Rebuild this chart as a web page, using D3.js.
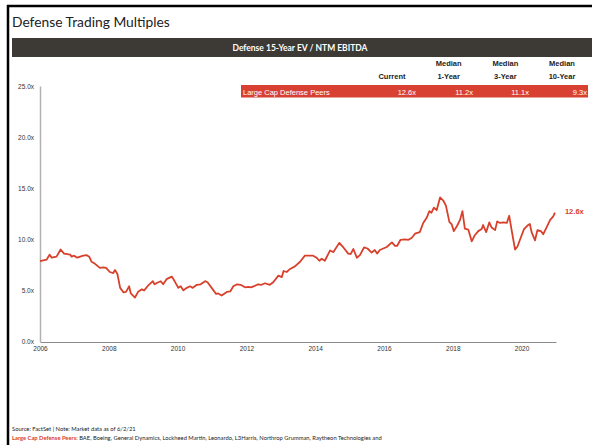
<!DOCTYPE html>
<html>
<head>
<meta charset="utf-8">
<script src="https://cdn.jsdelivr.net/npm/d3@7"></script>
<style>
  body { margin: 0; background: #fff; }
  svg { display: block; }
</style>
</head>
<body>
<div id="chart"></div>
<script>
(function(){

  // time in decimal years, EV / NTM EBITDA multiple
  var dates = [2006.00,2006.19,2006.28,2006.34,2006.48,2006.60,2006.70,2006.88,2006.92,2006.99,
    2007.08,2007.26,2007.36,2007.43,2007.50,2007.60,2007.74,2007.84,2007.92,
    2008.03,2008.13,2008.18,2008.25,2008.33,2008.43,2008.50,2008.59,2008.64,2008.76,2008.86,2008.96,
    2009.03,2009.15,2009.28,2009.33,2009.41,2009.51,2009.58,2009.68,2009.83,2009.88,
    2010.02,2010.09,2010.17,2010.24,2010.36,2010.44,2010.56,2010.67,2010.80,2010.87,2010.99,
    2011.12,2011.18,2011.28,2011.43,2011.53,2011.62,2011.73,2011.83,2011.96,
    2012.06,2012.13,2012.25,2012.34,2012.44,2012.54,2012.68,2012.78,2012.93,
    2013.03,2013.08,2013.17,2013.27,2013.41,2013.56,2013.70,2013.94,
    2014.04,2014.12,2014.19,2014.28,2014.43,2014.53,2014.70,2014.82,2014.96,
    2015.03,2015.11,2015.21,2015.30,2015.42,2015.52,2015.64,2015.73,2015.80,2015.88,
    2016.08,2016.23,2016.32,2016.38,2016.48,2016.61,2016.71,2016.81,2016.90,
    2017.04,2017.14,2017.24,2017.32,2017.38,2017.45,2017.53,2017.63,2017.73,2017.80,2017.90,2017.97,
    2018.03,2018.13,2018.21,2018.28,2018.35,2018.45,2018.55,2018.64,2018.74,2018.84,2018.88,2018.97,
    2019.06,2019.13,2019.23,2019.29,2019.37,2019.47,2019.57,2019.64,2019.71,2019.81,2019.88,2019.98,
    2020.07,2020.17,2020.24,2020.29,2020.39,2020.46,2020.56,2020.63,2020.73,2020.83,2020.92,2020.97];

  var multiples = [7.87,8.0,8.5,8.2,8.3,9.0,8.6,8.5,8.3,8.4,
    8.2,8.4,8.45,8.3,7.8,7.6,7.2,7.25,7.2,
    6.8,6.7,7.0,6.6,5.25,4.8,4.85,5.4,4.7,4.3,4.9,5.1,
    5.0,5.5,5.9,5.6,5.75,5.9,5.6,6.1,6.35,6.1,
    5.25,5.4,5.0,5.2,5.4,5.25,5.55,5.6,5.9,5.8,5.25,
    4.65,4.7,4.5,4.85,4.9,5.4,5.6,5.55,5.3,
    5.35,5.3,5.45,5.6,5.55,5.7,5.55,5.8,6.45,
    6.3,6.9,6.8,7.1,7.35,7.8,8.4,8.4,
    8.2,7.9,8.1,7.9,8.9,8.75,9.65,9.2,8.6,
    8.55,9.05,8.2,8.45,9.2,9.1,8.7,8.95,8.6,8.95,
    9.25,9.7,9.35,9.35,9.95,10.0,9.95,10.15,10.55,
    10.7,11.6,12.1,12.75,12.6,13.1,12.85,14.1,13.75,13.3,11.7,11.45,
    10.8,11.35,11.9,12.75,11.05,10.95,9.8,10.4,10.8,11.0,11.4,10.7,
    11.65,11.15,10.9,11.75,11.6,11.65,11.6,12.3,10.9,9.0,9.3,10.2,
    11.0,11.35,11.5,10.7,9.9,10.9,10.8,10.5,11.2,11.9,12.25,12.6];

  var yTicks = [0, 5, 10, 15, 20, 25];
  var xTicks = [2006, 2008, 2010, 2012, 2014, 2016, 2018, 2020];

  var tableCols = ["Current", "1-Year", "3-Year", "10-Year"];
  var tableTops = ["", "Median", "Median", "Median"];
  var peerLabel = "Large Cap Defense Peers";
  var peerValues = [12.6, 11.2, 11.1, 9.3];

  var red = "#d9402b";
  var arial = "'Liberation Sans', Arial, sans-serif";
  var calibri = "Lato, 'Open Sans', sans-serif";

  var width = 592;
  var height = 445;

  var svg = d3.select("#chart")
    .append("svg")
    .attr("width", width)
    .attr("height", height);

  // frame lines
  svg.append("line").attr("x1", 8).attr("x2", 8).attr("y1", 5).attr("y2", height)
    .attr("stroke", "#000").attr("stroke-width", 2.5);
  svg.append("line").attr("x1", 7).attr("x2", width).attr("y1", 6).attr("y2", 6)
    .attr("stroke", "#000").attr("stroke-width", 2.5);

  svg.append("text")
    .attr("x", 12).attr("y", 27)
    .attr("font-family", calibri).attr("font-size", 13.8)
    .attr("fill", "#222")
    .text("Defense Trading Multiples");

  // dark header bar
  svg.append("rect").attr("x", 12).attr("y", 38).attr("width", width - 12).attr("height", 19)
    .attr("fill", "#3d3935");
  svg.append("text")
    .attr("x", 300).attr("y", 51)
    .attr("text-anchor", "middle")
    .attr("font-family", calibri).attr("font-size", 8.5).attr("font-weight", "bold")
    .attr("fill", "#fff")
    .text("Defense 15-Year EV / NTM EBITDA");

  // summary table
  var colX = d3.scalePoint().domain(tableCols).range([392, 562]);
  var valRight = [416, 473, 529, 587];

  svg.selectAll(".hdrTop").data(tableCols).enter().append("text")
    .attr("x", function(d){ return colX(d); })
    .attr("y", 66)
    .attr("text-anchor", "middle")
    .attr("font-family", arial).attr("font-size", 7.5).attr("font-weight", "bold")
    .attr("fill", "#222")
    .text(function(d, i){ return tableTops[i]; });

  svg.selectAll(".hdrBot").data(tableCols).enter().append("text")
    .attr("x", function(d){ return colX(d); })
    .attr("y", 79)
    .attr("text-anchor", "middle")
    .attr("font-family", arial).attr("font-size", 7.5).attr("font-weight", "bold")
    .attr("fill", "#222")
    .text(function(d){ return d; });

  svg.append("rect").attr("x", 241).attr("y", 85).attr("width", 347).attr("height", 12.5)
    .attr("fill", "#d84132");
  svg.append("text")
    .attr("x", 243).attr("y", 94.5)
    .attr("font-family", arial).attr("font-size", 7.5)
    .attr("fill", "#fff")
    .text(peerLabel);
  svg.selectAll(".peerVal").data(peerValues).enter().append("text")
    .attr("x", function(d, i){ return valRight[i]; })
    .attr("y", 94.5)
    .attr("text-anchor", "end")
    .attr("font-family", arial).attr("font-size", 7.5)
    .attr("fill", "#fff")
    .text(function(d){ return d.toFixed(1) + "x"; });

  // chart
  var x = d3.scaleLinear().domain([2006, 2021]).range([40, 556]);
  var y = d3.scaleLinear().domain([0, 25]).range([341.5, 86]);

  var yAxis = svg.append("g")
    .attr("transform", "translate(40,0)")
    .call(d3.axisLeft(y).tickValues(yTicks).tickSize(0).tickPadding(6)
      .tickFormat(function(d){ return d.toFixed(1) + "x"; }));
  yAxis.select(".domain").attr("stroke", "#b4b0b0").attr("stroke-width", 1.5);
  yAxis.selectAll("text").attr("font-family", arial).attr("font-size", 6.5).attr("fill", "#333");

  var xAxis = svg.append("g")
    .attr("transform", "translate(0,342)")
    .call(d3.axisBottom(x).tickValues(xTicks).tickSize(0).tickPadding(4)
      .tickFormat(d3.format("d")));
  xAxis.select(".domain").attr("stroke", "#8c8888").attr("stroke-width", 1);
  xAxis.selectAll("text").attr("font-family", arial).attr("font-size", 6.5).attr("fill", "#333");

  var line = d3.line()
    .x(function(d, i){ return x(dates[i]); })
    .y(function(d){ return y(d); });

  svg.append("path")
    .datum(multiples)
    .attr("d", line)
    .attr("fill", "none")
    .attr("stroke", red)
    .attr("stroke-width", 1.8)
    .attr("stroke-linejoin", "round");

  var last = multiples[multiples.length - 1];
  svg.append("text")
    .attr("x", x(dates[dates.length - 1]) + 10)
    .attr("y", y(last) + 1)
    .attr("font-family", arial).attr("font-size", 7.5).attr("font-weight", "bold")
    .attr("fill", red)
    .text(last.toFixed(1) + "x");

  // footnotes
  svg.append("text")
    .attr("x", 12).attr("y", 431)
    .attr("font-family", calibri).attr("font-size", 5.8)
    .attr("fill", "#222")
    .text("Source: FactSet | Note: Market data as of 6/2/21");

  var foot = svg.append("text")
    .attr("x", 12).attr("y", 439.5)
    .attr("font-family", calibri).attr("font-size", 5.8)
    .attr("fill", "#222");
  foot.append("tspan").attr("fill", red).attr("font-weight", "bold").text(peerLabel + ": ");
  foot.append("tspan").text("BAE, Boeing,  General Dynamics,  Lockheed Martin,  Leonardo,  L3Harris,  Northrop  Grumman,  Raytheon Technologies  and");

})();
</script>
</body>
</html>
